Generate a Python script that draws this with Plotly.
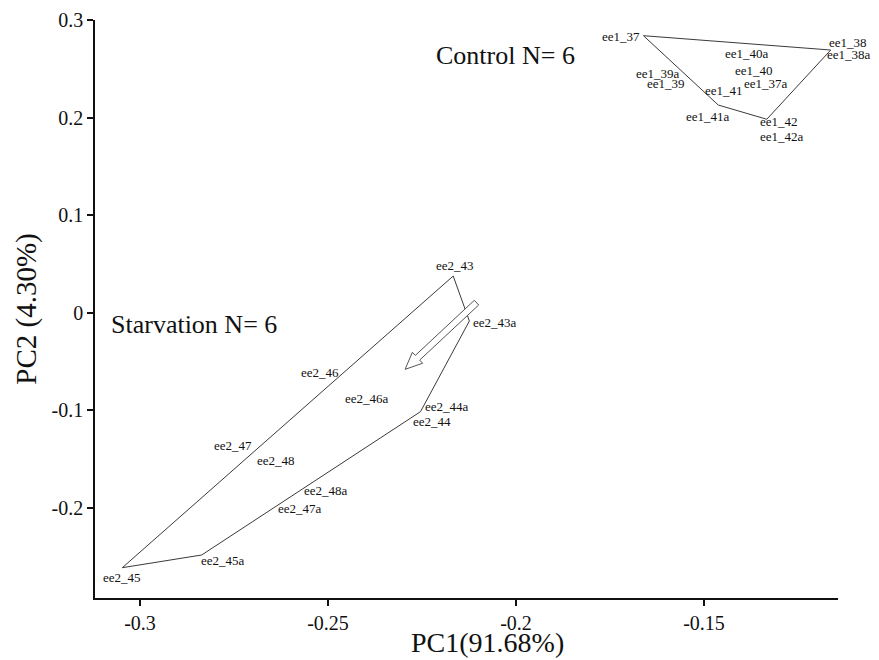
import math
import plotly.graph_objects as go

# ---------------- data ----------------
control_names = ["ee1_37", "ee1_37a", "ee1_38", "ee1_38a", "ee1_39", "ee1_39a",
                 "ee1_40", "ee1_40a", "ee1_41", "ee1_41a", "ee1_42", "ee1_42a"]
control_pc1 = [-0.1661, -0.1334, -0.1163, -0.1163, -0.1519, -0.1548,
               -0.1366, -0.1386, -0.1446, -0.1462, -0.1333, -0.1333]
control_pc2 = [0.2841, 0.2353, 0.2694, 0.2694, 0.2353, 0.2455,
               0.2489, 0.2661, 0.2277, 0.2130, 0.1984, 0.1984]

starv_names = ["ee2_43", "ee2_43a", "ee2_44", "ee2_44a", "ee2_45", "ee2_45a",
               "ee2_46", "ee2_46a", "ee2_47", "ee2_47a", "ee2_48", "ee2_48a"]
starv_pc1 = [-0.2167, -0.2124, -0.2254, -0.2254, -0.3047, -0.2836,
             -0.2457, -0.2396, -0.2689, -0.2622, -0.2638, -0.2559]
starv_pc2 = [0.0376, -0.0085, -0.1015, -0.1015, -0.2615, -0.2485,
             -0.0629, -0.0875, -0.1418, -0.1942, -0.1511, -0.1783]

group_labels = ["Control N= 6", "Starvation N= 6"]
group_label_pc1 = [-0.2029, -0.2856]
group_label_pc2 = [0.2643, -0.0116]

x_tickvals = [-0.3, -0.25, -0.2, -0.15]
x_ticktext = ["-0.3", "-0.25", "-0.2", "-0.15"]
y_tickvals = [-0.2, -0.1, 0, 0.1, 0.2, 0.3]
y_ticktext = ["-0.2", "-0.1", "0", "0.1", "0.2", "0.3"]

x_title = "PC1(91.68%)"
y_title = "PC2 (4.30%)"

# trend arrow (start -> end, in PC units)
arrow_start = (-0.2105, 0.0103)
arrow_end = (-0.2295, -0.0581)

# ---------------- style ----------------
# label offsets from their point, in pixels (x right, y up)
control_label_dx = [-22, 0, 17, 18, -31.3, -28.2, 0, 0, 0, -10, 12.3, 15]
control_label_dy = [-1, 0, 7.5, -4.8, 0, 0, 0, 0, 0, -11.7, -2.4, -17.4]
starv_label_dx = [2, 26, 11, 26, -0.6, 21.6, -24, 0, -23.7, 18, 0, 20]
starv_label_dy = [11, -1.7, -10.3, 5, -10.3, -5, 2, 0, 5, -6, 0, -3.5]

# page has an 8px body margin, so the figure is sized/offset to compensate
W, H = 871, 652
ML, MR, MT, MB = 87, 41, 12, 62
x_range = [-0.31197, -0.11436]
y_range = [-0.2926, 0.3002]
FONT = "Liberation Serif, Times New Roman, serif"
LINE_COLOR = "#3a3a3a"

plot_w = W - ML - MR
plot_h = H - MT - MB
sx = plot_w / (x_range[1] - x_range[0])
sy = plot_h / (y_range[1] - y_range[0])


def convex_hull(xs, ys):
    pts = sorted(set(zip(xs, ys)))
    if len(pts) <= 2:
        return pts

    def cross(o, a, b):
        return (a[0] - o[0]) * (b[1] - o[1]) - (a[1] - o[1]) * (b[0] - o[0])

    lower = []
    for p in pts:
        while len(lower) >= 2 and cross(lower[-2], lower[-1], p) <= 0:
            lower.pop()
        lower.append(p)
    upper = []
    for p in reversed(pts):
        while len(upper) >= 2 and cross(upper[-2], upper[-1], p) <= 0:
            upper.pop()
        upper.append(p)
    return lower[:-1] + upper[:-1]


fig = go.Figure()

for xs, ys in [(control_pc1, control_pc2), (starv_pc1, starv_pc2)]:
    hull = convex_hull(xs, ys)
    hull.append(hull[0])
    fig.add_trace(go.Scatter(
        x=[p[0] for p in hull], y=[p[1] for p in hull], mode="lines",
        line=dict(color=LINE_COLOR, width=1), hoverinfo="skip", showlegend=False))

annotations = []
for names, xs, ys, dxs, dys in [
        (control_names, control_pc1, control_pc2, control_label_dx, control_label_dy),
        (starv_names, starv_pc1, starv_pc2, starv_label_dx, starv_label_dy)]:
    for n, x, y, dx, dy in zip(names, xs, ys, dxs, dys):
        annotations.append(dict(
            x=x, y=y, xref="x", yref="y", text=n, showarrow=False,
            xshift=dx, yshift=dy, xanchor="center", yanchor="middle",
            font=dict(family=FONT, size=13, color="#111")))

for t, x, y in zip(group_labels, group_label_pc1, group_label_pc2):
    annotations.append(dict(
        x=x, y=y, xref="x", yref="y", text=t, showarrow=False,
        xanchor="center", yanchor="middle",
        font=dict(family=FONT, size=26, color="#111")))

# x-axis title (sits a little right of the plot centre in the original)
annotations.append(dict(
    x=0.5276, y=0, xref="paper", yref="paper", text=x_title, showarrow=False,
    xanchor="center", yanchor="middle", yshift=-44,
    font=dict(family=FONT, size=28, color="#111")))


# hollow arrow outline built in pixel space, mapped back to data units
def to_px(x, y):
    return ((x - x_range[0]) * sx, (y - y_range[0]) * sy)


def to_data(px, py):
    return (x_range[0] + px / sx, y_range[0] + py / sy)


ax0, ay0 = to_px(*arrow_start)
ax1, ay1 = to_px(*arrow_end)
L = math.hypot(ax1 - ax0, ay1 - ay0)
ux, uy = (ax1 - ax0) / L, (ay1 - ay0) / L
nx, ny = -uy, ux
head_len, head_hw, shaft_hw = 17, 7.5, 3.2
bx, by = ax1 - ux * head_len, ay1 - uy * head_len
poly_px = [
    (ax0 + nx * shaft_hw, ay0 + ny * shaft_hw),
    (bx + nx * shaft_hw, by + ny * shaft_hw),
    (bx + nx * head_hw, by + ny * head_hw),
    (ax1, ay1),
    (bx - nx * head_hw, by - ny * head_hw),
    (bx - nx * shaft_hw, by - ny * shaft_hw),
    (ax0 - nx * shaft_hw, ay0 - ny * shaft_hw),
]
poly = [to_data(px, py) for px, py in poly_px]
path = "M " + " L ".join(f"{x:.6f},{y:.6f}" for x, y in poly) + " Z"

fig.update_layout(
    width=W, height=H,
    margin=dict(l=ML, r=MR, t=MT, b=MB),
    paper_bgcolor="white", plot_bgcolor="white",
    font=dict(family=FONT, color="#111"),
    showlegend=False,
    annotations=annotations,
    shapes=[dict(type="path", path=path, xref="x", yref="y",
                 line=dict(color="#555", width=1), fillcolor="white")],
    xaxis=dict(
        range=x_range, showgrid=False, zeroline=False,
        showline=True, linecolor="#111", linewidth=1.5,
        ticks="outside", ticklen=6, tickwidth=1.5, tickcolor="#111",
        tickvals=x_tickvals, ticktext=x_ticktext,
        tickfont=dict(family=FONT, size=20, color="#111"),
        automargin=False),
    yaxis=dict(
        range=y_range, showgrid=False, zeroline=False,
        showline=True, linecolor="#111", linewidth=1.5,
        ticks="outside", ticklen=6, tickwidth=1.5, tickcolor="#111",
        tickvals=y_tickvals, ticktext=y_ticktext,
        tickfont=dict(family=FONT, size=20, color="#111"),
        title=dict(text=y_title, font=dict(family=FONT, size=29, color="#111"), standoff=6),
        automargin=False),
)

fig.write_html("out.html")
